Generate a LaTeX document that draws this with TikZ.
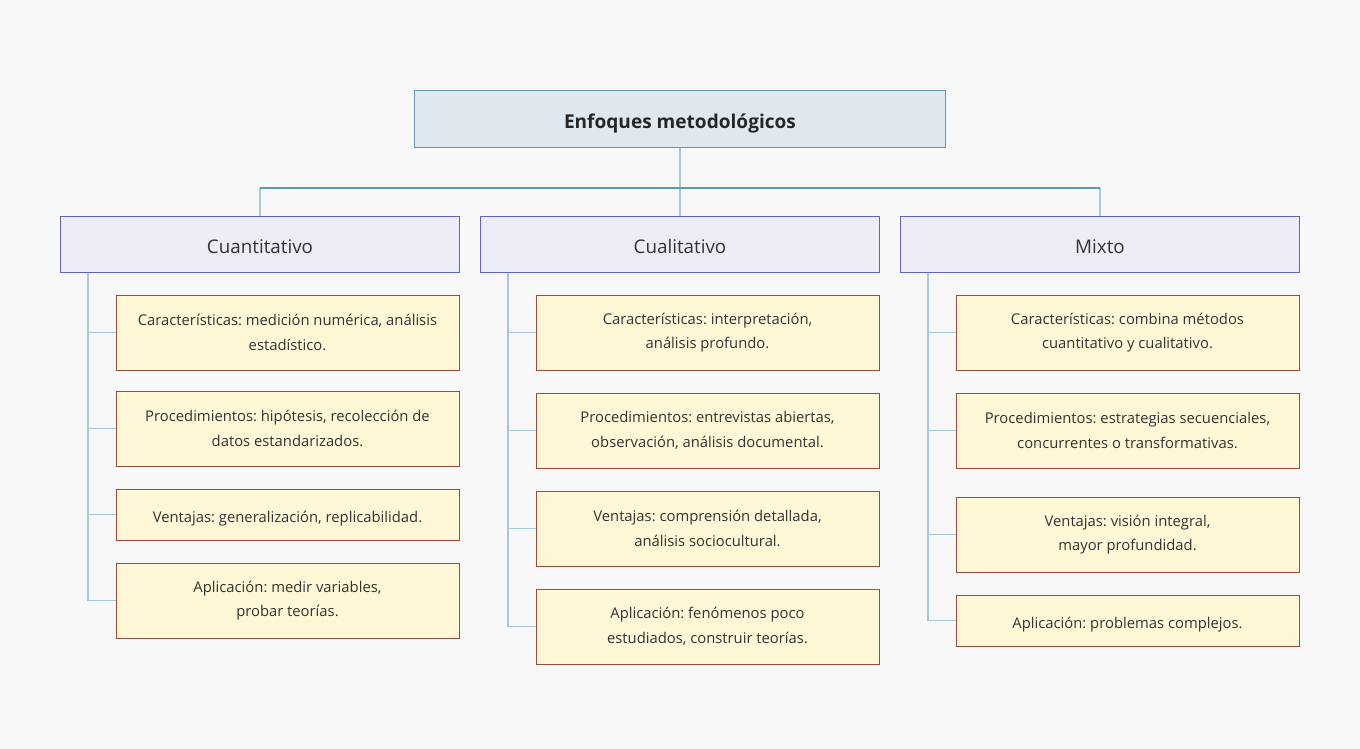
\documentclass[tikz,border=0pt]{standalone}
\usepackage{fontspec}
\setmainfont{Open Sans}
\frenchspacing
\usetikzlibrary{positioning}
\definecolor{pagebg}{HTML}{F8F8F8}
\definecolor{rootfill}{HTML}{DFE8EF}
\definecolor{rootline}{HTML}{5F9AB5}
\definecolor{headfill}{HTML}{EDEDF7}
\definecolor{headline}{HTML}{6262C0}
\definecolor{leaffill}{HTML}{FFF7D6}
\definecolor{leafline}{HTML}{A04A3A}
\definecolor{linkcol}{HTML}{A6C8DC}
\definecolor{txt}{HTML}{333333}

\begin{document}
\begin{tikzpicture}[
		x=0.75pt, y=-0.75pt,
		RootBox/.style={draw=rootline,fill=rootfill,line width=0.75pt,minimum width=398.25pt,minimum height=42pt,text=black!85,font=\fontsize{14.3}{17}\selectfont\bfseries,execute at begin node={\rule{0pt}{18pt}}},
		HeadBox/.style={draw=headline,fill=headfill,line width=0.75pt,minimum width=299.25pt,minimum height=42pt,text=txt,font=\fontsize{14.1}{17}\selectfont,execute at begin node={\rule{0pt}{15pt}}},
		LeafBox/.style={draw=leafline,fill=leaffill,line width=0.75pt,minimum width=257.25pt,minimum height=56.25pt,align=center,text=txt,font=\fontsize{11.1}{18.5}\selectfont,execute at begin node={\rule{0pt}{15pt}}},
		LeafShort/.style={LeafBox,minimum height=38.25pt,execute at begin node={\rule{0pt}{13.5pt}}},
		Links/.style={draw=linkcol,line width=1.4pt},
		BusLine/.style={draw=rootline,line width=0.8pt}
		]
		\fill[pagebg] (0,0) rectangle (1360,749);
		
		% top
		\node[RootBox] (root) at (680,119) {Enfoques metodológicos};
		
		\node[HeadBox] (quan) at (260,244) {Cuantitativo};
		\node[HeadBox] (qual) at (680,244) {Cualitativo};
		\node[HeadBox] (mix) at (1100,244) {Mixto};
		
		\coordinate (bus) at (680,188);
		\draw[Links] (root) -- (bus);
		\draw[Links] (quan.north |- bus) -- (quan);
		\draw[Links] (qual.north |- bus) -- (qual);
		\draw[Links] (mix.north |- bus) -- (mix);
		\draw[BusLine] (quan.north |- bus) -- (mix.north |- bus);
		
		% Cuantitativo
		\node[LeafBox] (quan1) at (287.5,332.5) {Características: medición numérica, análisis\\estadístico.};
		\node[LeafBox] (quan2) at (287.5,428.5) {Procedimientos: hipótesis, recolección de\\datos estandarizados.};
		\node[LeafShort] (quan3) at (287.5,514.5) {Ventajas: generalización, replicabilidad.};
		\node[LeafBox] (quan4) at (287.5,600.5) {Aplicación: medir variables,\\probar teorías.};
		
		% Cualitativo
		\node[LeafBox] (qual1) at (707.5,332.5) {Características: interpretación,\\análisis profundo.};
		\node[LeafBox] (qual2) at (707.5,430.5) {Procedimientos: entrevistas abiertas,\\observación, análisis documental.};
		\node[LeafBox] (qual3) at (707.5,528.5) {Ventajas: comprensión detallada,\\análisis sociocultural.};
		\node[LeafBox] (qual4) at (707.5,626.5) {Aplicación: fenómenos poco\\estudiados, construir teorías.};
		
		% Mixto
		\node[LeafBox] (mix1) at (1127.5,332.5) {Características: combina métodos\\cuantitativo y cualitativo.};
		\node[LeafBox] (mix2) at (1127.5,430.5) {Procedimientos: estrategias secuenciales,\\concurrentes o transformativas.};
		\node[LeafBox] (mix3) at (1127.5,534.5) {Ventajas: visión integral,\\mayor profundidad.};
		\node[LeafShort] (mix4) at (1127.5,620.5) {Aplicación: problemas complejos.};
		
		\coordinate (quanT) at ([xshift=21pt]quan.south west);
		\coordinate (qualT) at ([xshift=21pt]qual.south west);
		\coordinate (mixT) at ([xshift=21pt]mix.south west);
		
		\draw[Links] (quanT) |- (quan4);
		\draw[Links] (qualT) |- (qual4);
		\draw[Links] (mixT) |- (mix4);
		
		\foreach \i in {1,2,3}{
			\draw[Links] (quanT |- quan\i) -- (quan\i);
			\draw[Links] (qualT |- qual\i) -- (qual\i);
			\draw[Links] (mixT |- mix\i) -- (mix\i);
		}
		
	\end{tikzpicture}
\end{document}
